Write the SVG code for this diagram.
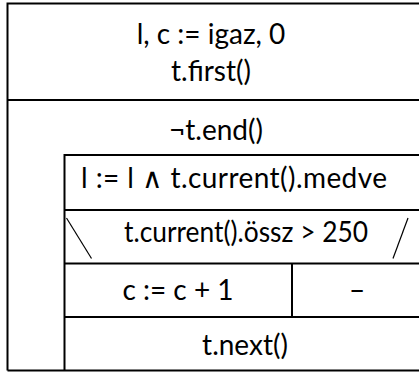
<svg xmlns="http://www.w3.org/2000/svg" width="419" height="372" viewBox="0 0 419 372">
<style>
.ln{stroke:#000;stroke-width:2;fill:none}
.thin{stroke:#000;stroke-width:1.2;fill:none}
text{font-family:Lato,"DejaVu Sans",sans-serif;font-size:28px;fill:#000;text-anchor:middle}
</style>
<rect width="419" height="372" fill="#fff"/>
<g id="outer">
<path class="ln" d="M7.5 370.5 V3.5 H420"/>
<path class="ln" d="M7.5 370.5 H420"/>
</g>
<g id="init">
<line class="ln" x1="7.5" y1="100" x2="420" y2="100"/>
<text x="211" y="44">l, c := igaz, 0</text>
<text x="211" y="81">t.first()</text>
</g>
<g id="loop">
<text x="216" y="140">¬t.end()</text>
<path class="ln" d="M64.5 370.5 V155 H420"/>
</g>
<g id="assign">
<line class="ln" x1="64.5" y1="210" x2="420" y2="210"/>
<text x="234" y="188" textLength="306" lengthAdjust="spacing">l := l ∧ t.current().medve</text>
</g>
<g id="branch">
<line class="thin" x1="66.5" y1="218" x2="91.5" y2="258.5"/>
<line class="thin" x1="408" y1="218" x2="393" y2="258.5"/>
<text x="246" y="242" textLength="244" lengthAdjust="spacingAndGlyphs">t.current().össz &gt; 250</text>
<line class="ln" x1="64.5" y1="263.5" x2="420" y2="263.5"/>
<line class="ln" x1="292" y1="263.5" x2="292" y2="317"/>
</g>
<g id="then">
<text x="178" y="300">c := c + 1</text>
</g>
<g id="else">
<text x="357" y="300">–</text>
</g>
<g id="next">
<line class="ln" x1="64.5" y1="317" x2="420" y2="317"/>
<text x="245" y="355">t.next()</text>
</g>
</svg>
